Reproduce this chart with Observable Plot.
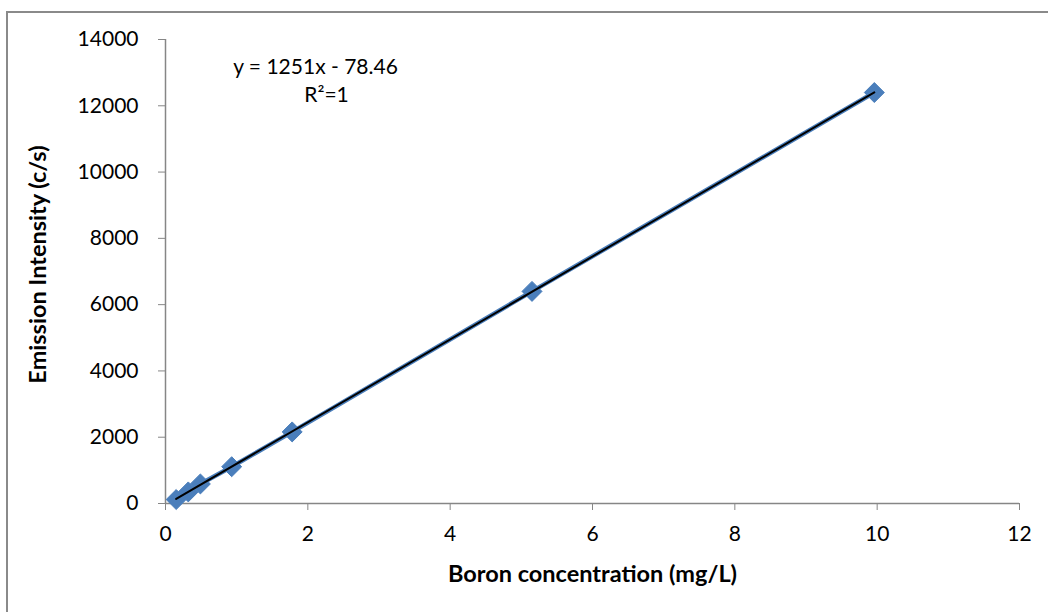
<!DOCTYPE html>
<html>
<head>
<meta charset="utf-8">
<script src="https://cdn.jsdelivr.net/npm/d3@7"></script>
<script src="https://cdn.jsdelivr.net/npm/@observablehq/plot@0.6"></script>
<style>
  html, body { margin: 0; padding: 0; background: #fff; overflow: hidden; }
  #wrap { position: relative; width: 1048px; height: 612px; }
  #border { position: absolute; left: 6px; top: 11px; width: 1100px; height: 700px;
            border: 2px solid #8a8a8a; box-sizing: border-box; }
  #chart { position: absolute; left: 0; top: 0; }
</style>
</head>
<body>
<div id="wrap"><div id="border"></div><div id="chart"></div></div>
<script>
const concentration = [0.15, 0.32, 0.49, 0.93, 1.78, 5.15, 9.96];
const intensity = [120, 350, 590, 1110, 2160, 6400, 12400];
const xTicks = [0, 2, 4, 6, 8, 10, 12];
const yTicks = [0, 2000, 4000, 6000, 8000, 10000, 12000, 14000];
const xTitle = "Boron concentration (mg/L)";
const yTitle = "Emission Intensity (c/s)";
const equation = "y = 1251x - 78.46";
const rSquared = "R²=1";

const data = concentration.map((c, i) => ({c, v: intensity[i]}));
const font = "Lato, sans-serif";
const blue = "#4A7EBB";
const fmt = d => String(d);

const chart = Plot.plot({
  width: 1048,
  height: 612,
  marginLeft: 165,
  marginRight: 29,
  marginTop: 39,
  marginBottom: 109,
  style: {fontFamily: font, fontSize: "21px", background: "transparent", color: "#000"},
  x: {domain: [0, 12], ticks: xTicks, label: null},
  y: {domain: [0, 14000], ticks: yTicks, label: null},
  marks: [
    Plot.axisX({ticks: xTicks, tickFormat: fmt, tickSize: 7, tickPadding: 16, stroke: "#868686", fill: "#000", label: null, fontSize: 21}),
    Plot.axisY({ticks: yTicks, tickFormat: fmt, tickSize: 7, tickPadding: 20, stroke: "#868686", fill: "#000", label: null, fontSize: 21}),
    Plot.ruleY([0], {stroke: "#868686", strokeWidth: 1.5}),
    Plot.ruleX([0], {stroke: "#868686", strokeWidth: 1.5}),
    Plot.line(data, {x: "c", y: "v", stroke: blue, strokeWidth: 4.5}),
    Plot.dot(data, {x: "c", y: "v", symbol: "diamond2", r: 9, fill: blue, stroke: blue, strokeWidth: 1}),
    Plot.linearRegressionY(data, {x: "c", y: "v", stroke: "#000", strokeWidth: 2, ci: 0}),
    Plot.text([equation], {frameAnchor: "top-left", dx: 150, dy: 20, text: d => d, textAnchor: "middle", fontSize: 21, fill: "#000"}),
    Plot.text([rSquared], {frameAnchor: "top-left", dx: 161, dy: 48, text: d => d, textAnchor: "middle", fontSize: 21, fill: "#000"}),
    Plot.text([xTitle], {frameAnchor: "bottom", dy: 78, text: d => d, textAnchor: "middle", fontWeight: "bold", fontSize: 23.5, fill: "#000"}),
    Plot.text([yTitle], {frameAnchor: "left", dx: -127, dy: -7, rotate: -90, text: d => d, textAnchor: "middle", fontWeight: "bold", fontSize: 23.5, fill: "#000"})
  ]
});
document.getElementById("chart").appendChild(chart);
</script>
</body>
</html>
